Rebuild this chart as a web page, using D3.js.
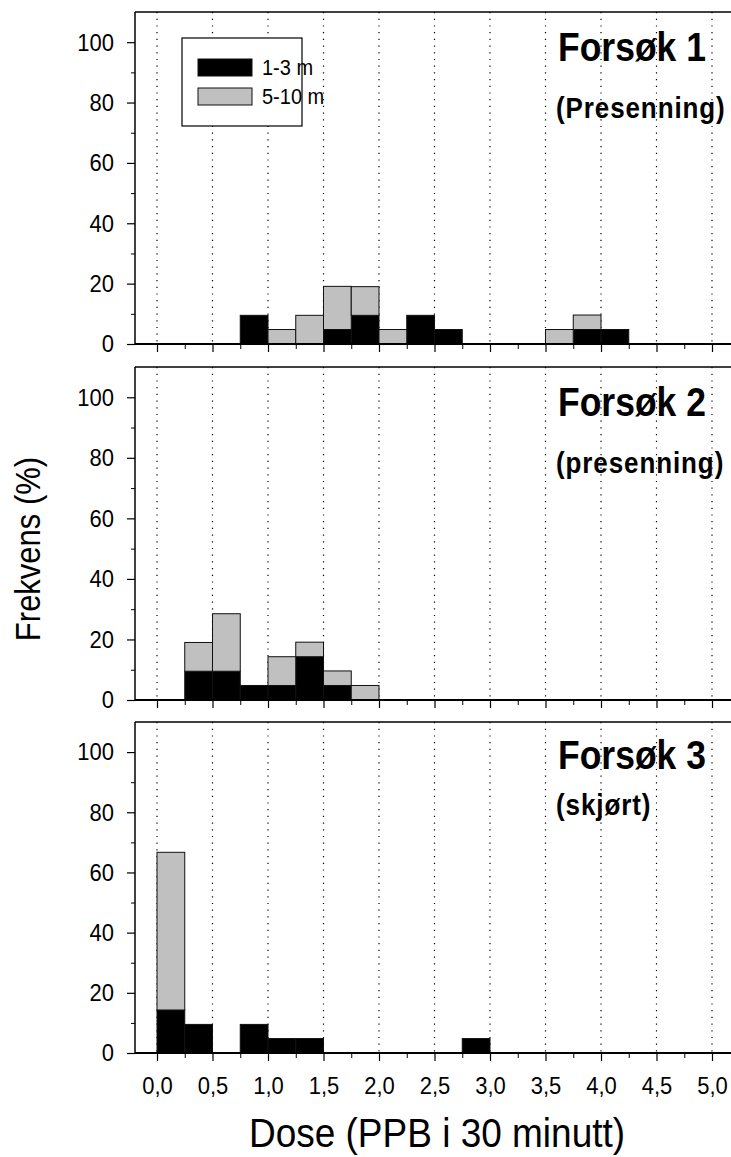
<!DOCTYPE html>
<html>
<head>
<meta charset="utf-8">
<script src="https://cdn.jsdelivr.net/npm/d3@7"></script>
<style>
  body { margin: 0; background: #fff; }
  text { font-family: "Liberation Sans", Arial, sans-serif; }
</style>
</head>
<body>
<div id="chart"></div>
<script>
// bins are 0.25 wide, this is where each one starts
const binStart = [0, 0.25, 0.5, 0.75, 1, 1.25, 1.5, 1.75, 2, 2.25,
                  2.5, 2.75, 3, 3.25, 3.5, 3.75, 4, 4.25, 4.5, 4.75];

// Forsøk 1
const near1 = [0, 0, 0, 9.5, 0, 0, 4.8, 9.5, 0, 9.5, 4.8, 0, 0, 0, 0, 4.8, 4.8, 0, 0, 0];
const far1  = [0, 0, 0, 0, 4.8, 9.5, 14.3, 9.5, 4.8, 0, 0, 0, 0, 0, 4.8, 4.8, 0, 0, 0, 0];
// Forsøk 2
const near2 = [0, 9.5, 9.5, 4.8, 4.8, 14.3, 4.8, 0, 0, 0, 0, 0, 0, 0, 0, 0, 0, 0, 0, 0];
const far2  = [0, 9.5, 19.0, 0, 9.5, 4.8, 4.8, 4.8, 0, 0, 0, 0, 0, 0, 0, 0, 0, 0, 0, 0];
// Forsøk 3
const near3 = [14.3, 9.5, 0, 9.5, 4.8, 4.8, 0, 0, 0, 0, 0, 4.8, 0, 0, 0, 0, 0, 0, 0, 0];
const far3  = [52.4, 0, 0, 0, 0, 0, 0, 0, 0, 0, 0, 0, 0, 0, 0, 0, 0, 0, 0, 0];

const titles = ["Forsøk 1", "Forsøk 2", "Forsøk 3"];
const subtitles = ["(Presenning)", "(presenning)", "(skjørt)"];
const seriesNames = ["1-3 m", "5-10 m"];
const yTicks = [0, 20, 40, 60, 80, 100];
const yMinor = [10, 30, 50, 70, 90];
const xMajor = [0, 0.5, 1, 1.5, 2, 2.5, 3, 3.5, 4, 4.5, 5];
const xTickLabels = ["0,0", "0,5", "1,0", "1,5", "2,0", "2,5", "3,0", "3,5", "4,0", "4,5", "5,0"];

const width = 731, height = 1157;
const panelTop = [12, 367, 722], panelBottom = [344, 700, 1053];
const titleY = [61, 416, 769], subY = [118, 473, 815];
const colors = ["#000000", "#c0c0c0"];
const binW = 0.25;
const stretch = 1.12;   // text in the original is a bit tall

const svg = d3.select("#chart").append("svg")
    .attr("width", width)
    .attr("height", height)
    .style("background", "#fff");

const x = d3.scaleLinear().domain([0, 5]).range([157, 712]);
const frameLeft = 135;

function label(sel, px, py, str, size, weight, anchor) {
    return sel.append("text")
        .attr("transform", `translate(${px},${py}) scale(1,${stretch})`)
        .attr("font-size", size)
        .attr("font-weight", weight || "normal")
        .attr("text-anchor", anchor || "start")
        .text(str);
}

const panels = [[near1, far1], [near2, far2], [near3, far3]];

panels.forEach(([near, far], i) => {
    const y = d3.scaleLinear().domain([0, 110]).range([panelBottom[i], panelTop[i]]);
    const g = svg.append("g");

    // dotted grid
    g.selectAll("line.grid")
        .data(xMajor)
        .join("line")
        .attr("class", "grid")
        .attr("x1", d => x(d)).attr("x2", d => x(d))
        .attr("y1", panelTop[i]).attr("y2", panelBottom[i])
        .attr("stroke", "#000")
        .attr("stroke-width", 1.2)
        .attr("stroke-dasharray", "1.2,5.5");

    // stacked bars
    const rows = binStart.map((b, k) => ({ start: b, near: near[k], far: far[k] }));
    const stacked = d3.stack().keys(["near", "far"])(rows);
    stacked.forEach((layer, s) => {
        g.selectAll("rect.s" + s)
            .data(layer.filter(d => d[1] - d[0] > 0))
            .join("rect")
            .attr("class", "s" + s)
            .attr("x", d => x(d.data.start))
            .attr("width", d => x(d.data.start + binW) - x(d.data.start))
            .attr("y", d => y(d[1]))
            .attr("height", d => y(d[0]) - y(d[1]))
            .attr("fill", colors[s])
            .attr("stroke", "#111")
            .attr("stroke-width", 1);
    });

    // frame: top and left
    g.append("line")
        .attr("x1", frameLeft).attr("x2", width)
        .attr("y1", panelTop[i]).attr("y2", panelTop[i])
        .attr("stroke", "#000").attr("stroke-width", 1.5);

    // y axis
    const yAxis = g.append("g")
        .attr("transform", `translate(${frameLeft},0)`)
        .call(d3.axisLeft(y).tickValues(yTicks).tickSize(8).tickPadding(13));
    yAxis.select(".domain").attr("d", `M0,${panelTop[i]}V${panelBottom[i]}`).attr("stroke-width", 1.5);
    yAxis.selectAll("text")
        .attr("font-size", 22)
        .attr("font-family", "Liberation Sans, Arial, sans-serif")
        .attr("transform", `scale(1,${stretch})`);
    yAxis.selectAll(".tick line").attr("stroke-width", 1.2);
    g.append("g")
        .attr("transform", `translate(${frameLeft},0)`)
        .call(d3.axisLeft(y).tickValues(yMinor).tickSize(4).tickFormat(""))
        .call(a => a.select(".domain").remove());

    // x axis
    const xAxis = g.append("g")
        .attr("transform", `translate(0,${panelBottom[i]})`)
        .call(d3.axisBottom(x).tickValues(xMajor).tickSize(8).tickPadding(13)
            .tickFormat((d, k) => i === 2 ? xTickLabels[k] : ""));
    xAxis.select(".domain").attr("d", `M${frameLeft},0H${width}`).attr("stroke-width", 2);
    xAxis.selectAll("text")
        .attr("font-size", 22)
        .attr("font-family", "Liberation Sans, Arial, sans-serif")
        .attr("transform", `scale(1,${stretch})`);
    xAxis.selectAll(".tick line").attr("stroke-width", 1.2);
    g.append("g")
        .attr("transform", `translate(0,${panelBottom[i]})`)
        .call(d3.axisBottom(x).tickValues(binStart.filter(d => d % 0.5 !== 0)).tickSize(5).tickFormat(""))
        .call(a => a.select(".domain").remove());

    // panel titles
    label(g, 558, titleY[i], titles[i], 35.5, "bold");
    label(g, 556, subY[i], subtitles[i], 26, "bold")
        .attr("letter-spacing", 0.9);
});

// legend in first panel
const lg = svg.append("g");
lg.append("rect")
    .attr("x", 182).attr("y", 38).attr("width", 120).attr("height", 88)
    .attr("fill", "#fff").attr("stroke", "#000").attr("stroke-width", 1.2);
seriesNames.forEach((name, s) => {
    lg.append("rect")
        .attr("x", 198).attr("y", 59 + s * 29).attr("width", 54).attr("height", 17)
        .attr("fill", colors[s]).attr("stroke", "#111").attr("stroke-width", 1);
    label(lg, 262, 75 + s * 29, name, 20);
});

// axis titles
svg.append("text")
    .attr("transform", `translate(40,549) rotate(-90) scale(1,${stretch})`)
    .attr("text-anchor", "middle")
    .attr("font-size", 31)
    .text("Frekvens (%)");

label(svg, 437, 1147, "Dose (PPB i 30 minutt)", 37, "normal", "middle");
</script>
</body>
</html>
